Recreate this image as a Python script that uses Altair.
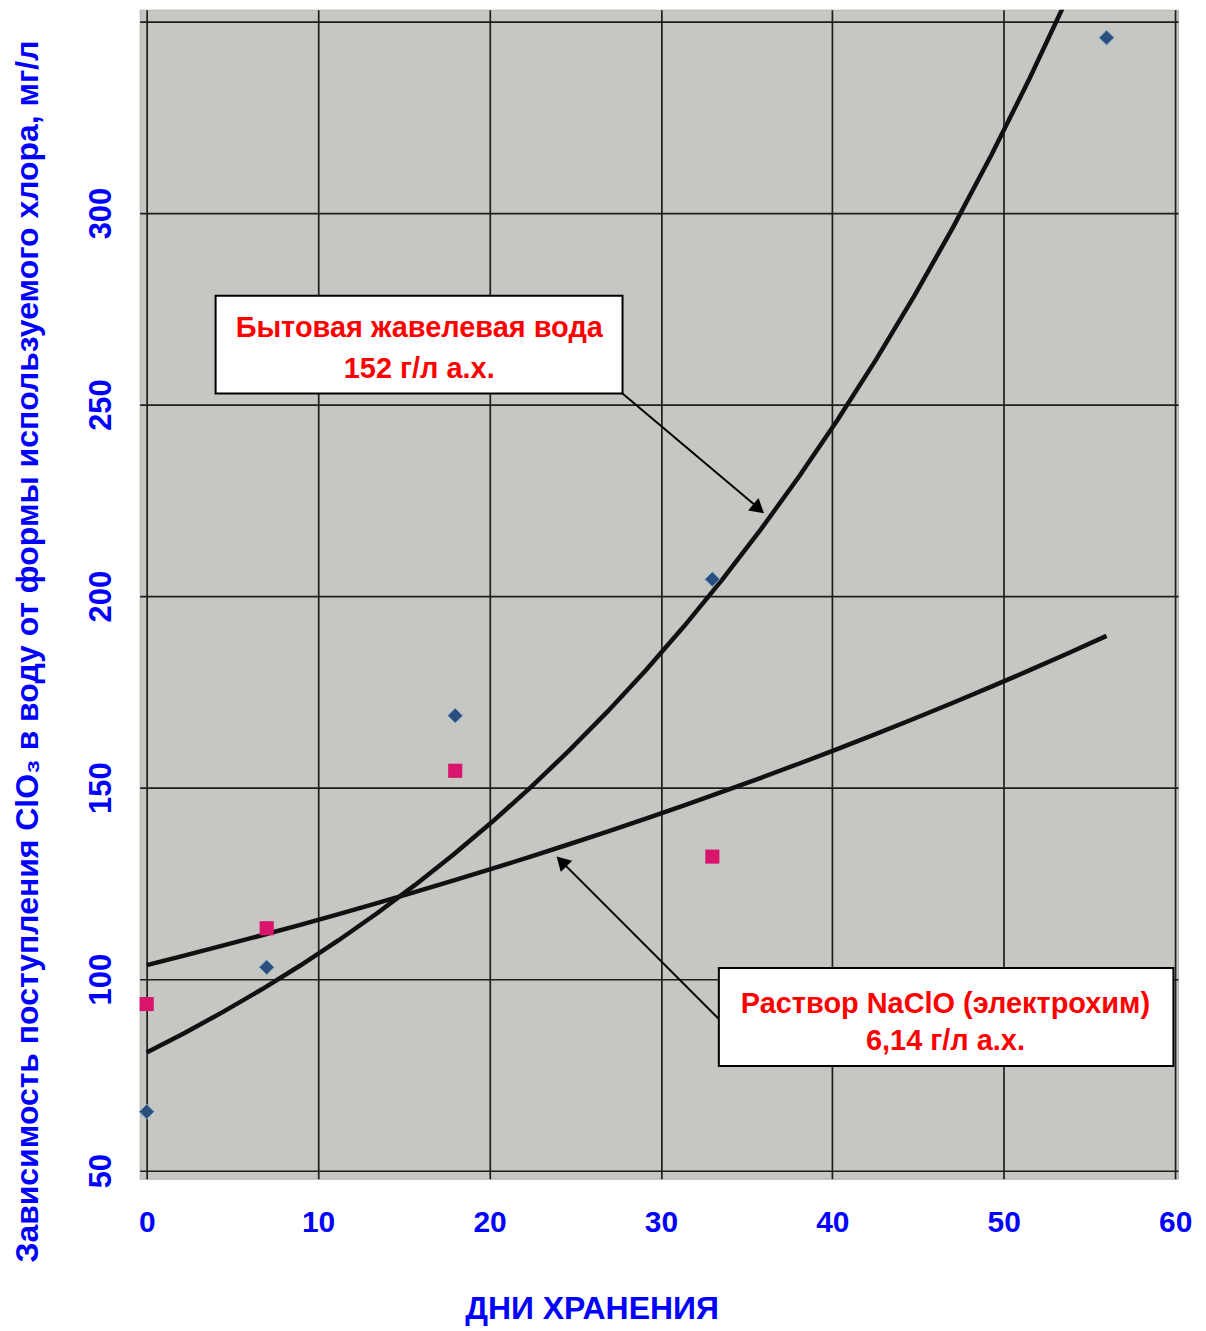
import altair as alt
import pandas as pd

# ---- data ----
days_blue = [0, 7, 18, 33, 56]
clo3_blue = [65.4, 103.1, 168.8, 204.4, 345.8]
days_pink = [0, 7, 18, 33]
clo3_pink = [93.5, 113.3, 154.4, 132.0]

x_ticks = [0, 10, 20, 30, 40, 50, 60]
y_ticks = [50, 100, 150, 200, 250, 300, 350]
x_domain = [-0.41, 60.17]
y_domain = [47.9, 353.1]
trend_extent = [0, 56]

# annotation boxes (data coordinates)
box_x1 = [4.02, 33.38]
box_x2 = [27.76, 59.9]
box_y1 = [278.4, 102.9]
box_y2 = [252.9, 77.3]

# annotation texts
text_lines = ["Бытовая жавелевая вода", "152 г/л а.х.",
              "Раствор NaClO (электрохим)", "6,14 г/л а.х."]
text_x = [15.9, 15.9, 46.6, 46.6]
text_y = [270.0, 259.4, 93.5, 83.9]

# arrows
arrow_x1 = [27.76, 33.38]
arrow_y1 = [252.9, 89.6]
arrow_x2 = [35.9, 24.05]
arrow_y2 = [222.2, 131.4]
head_x = [35.6, 24.3]
head_y = [223.2, 130.3]
head_angle = [130, 315]

x_title = "ДНИ ХРАНЕНИЯ"
y_title = "Зависимость поступления ClO₃ в воду от формы используемого хлора, мг/л"

# ---- tables ----
pts = pd.DataFrame({
    "day": days_blue + days_pink,
    "value": clo3_blue + clo3_pink,
    "series": ["blue"] * len(days_blue) + ["pink"] * len(days_pink),
})
boxes = pd.DataFrame({"x1": box_x1, "x2": box_x2, "y1": box_y1, "y2": box_y2})
texts = pd.DataFrame({"x": text_x, "y": text_y, "t": text_lines})
arrows = pd.DataFrame({"x1": arrow_x1, "y1": arrow_y1, "x2": arrow_x2, "y2": arrow_y2})
heads = pd.DataFrame({"x": head_x, "y": head_y, "a": head_angle})

AXIS_FONT = "Liberation Sans"
BLUE = "#0000ff"

xs = alt.Scale(domain=x_domain, nice=False, zero=False)
ys = alt.Scale(domain=y_domain, nice=False, zero=False)

x_axis = alt.Axis(values=x_ticks, grid=True, gridColor="#1e1e1e", gridWidth=1.7,
                  domain=False, ticks=False, tickSize=0, labelPadding=29,
                  labelFont=AXIS_FONT, labelFontSize=30, labelFontWeight="bold",
                  labelColor=BLUE, title=x_title, titleFont=AXIS_FONT,
                  titleFontSize=32, titleFontWeight="bold", titleColor=BLUE,
                  titleX=453, titleY=130, titleAlign="center", titleBaseline="middle")
y_axis = alt.Axis(values=y_ticks, grid=True, gridColor="#1e1e1e", gridWidth=1.7,
                  domain=False, ticks=False, tickSize=0, labelPadding=22,
                  labelAngle=270, labelAlign="center", labelBaseline="bottom",
                  labelExpr="datum.value == 350 ? '' : datum.label",
                  labelFont=AXIS_FONT, labelFontSize=31, labelFontWeight="bold",
                  labelColor=BLUE, title=y_title, titleFont=AXIS_FONT,
                  titleFontSize=32, titleFontWeight="bold", titleColor=BLUE,
                  titleAngle=270, titleX=-112, titleY=643, titleAlign="center",
                  titleBaseline="middle")


def X(field):
    return alt.X(field, type="quantitative", scale=xs, axis=x_axis)


def Y(field):
    return alt.Y(field, type="quantitative", scale=ys, axis=y_axis)


base = alt.Chart(pts)

trend = base.transform_calculate(
    lv="log(datum.value)"
).transform_regression(
    "day", "lv", method="poly", order=1, extent=trend_extent, groupby=["series"]
).transform_calculate(
    fit="exp(datum.lv)"
).mark_line(color="#111111", strokeWidth=4.5, clip=True).encode(
    x=X("day"), y=Y("fit"), detail="series:N"
)

blue_pts = base.transform_filter("datum.series == 'blue'").mark_point(
    shape="diamond", filled=True, size=230, color="#2c4e7e", opacity=1,
    stroke="#8ab8cc", strokeWidth=1
).encode(x=X("day"), y=Y("value"))

pink_pts = base.transform_filter("datum.series == 'pink'").mark_point(
    shape="square", filled=True, size=200, color="#d8146c", opacity=1
).encode(x=X("day"), y=Y("value"))

arrow_lines = alt.Chart(arrows).mark_rule(color="black", strokeWidth=2).encode(
    x=X("x1"), y=Y("y1"), x2="x2", y2="y2"
)
arrow_heads = alt.Chart(heads).mark_point(
    shape="triangle", filled=True, size=260, color="black", opacity=1
).encode(x=X("x"), y=Y("y"), angle=alt.Angle("a:Q", scale=None))

box_rects = alt.Chart(boxes).mark_rect(fill="white", stroke="black", strokeWidth=2).encode(
    x=X("x1"), x2="x2", y=Y("y1"), y2="y2"
)
box_texts = alt.Chart(texts).mark_text(
    font="Liberation Sans", fontSize=29,
    fontWeight="bold", color="#ff0000", align="center", baseline="middle"
).encode(x=X("x"), y=Y("y"), text="t:N")

chart = alt.layer(
    trend, arrow_lines, arrow_heads, box_rects, box_texts, blue_pts, pink_pts
).properties(
    width=1041, height=1172,
    autosize=alt.AutoSizeParams(type="none"),
    padding={"left": 132, "top": 0, "right": 20, "bottom": 160},
).configure_view(
    fill="#c6c6c2", stroke="#b4b4b0"
)

chart.save("out.html", embed_options={"renderer": "svg", "actions": False})
